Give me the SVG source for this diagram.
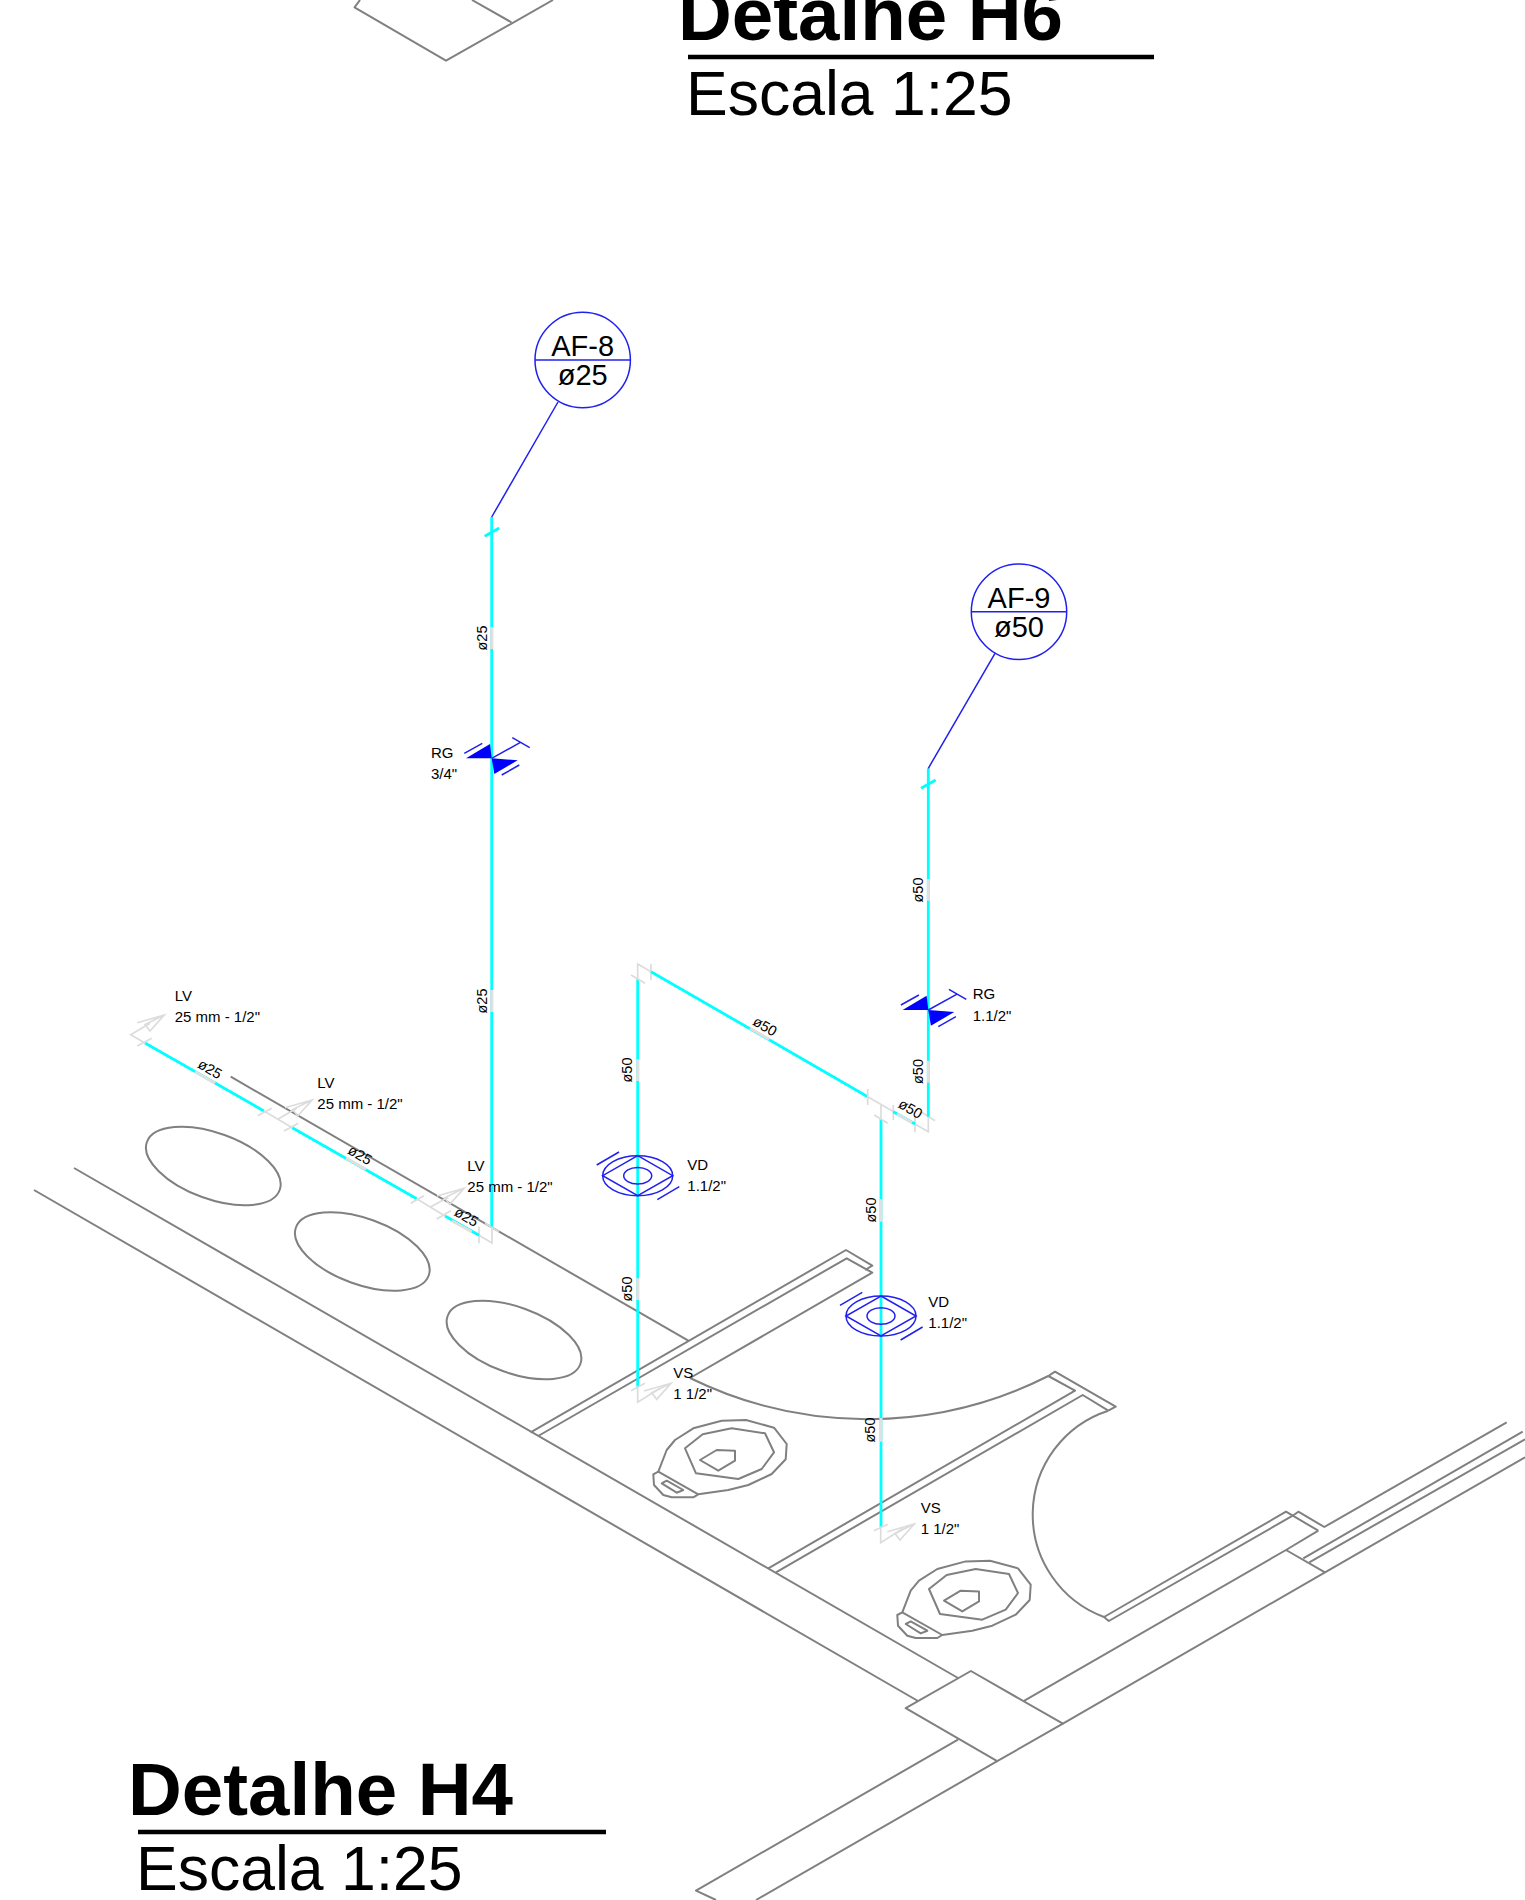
<svg xmlns="http://www.w3.org/2000/svg" width="1525" height="1900" viewBox="0 0 1525 1900">
<style>
text{font-family:"Liberation Sans",Arial,sans-serif;fill:#000}
.g{fill:none;stroke:#808080;stroke-width:2;stroke-linejoin:round}
.c{fill:none;stroke:#00ffff;stroke-width:2.8}
.l{fill:none;stroke:#dcdcdc;stroke-width:1.7}
.lg{fill:none;stroke:#e0e0e0;stroke-width:3}
.b{fill:none;stroke:#2020f0;stroke-width:1.5}
.bf{fill:#0000ff;stroke:none}
.t{font-size:15px}
.d{font-size:14.5px}
.m{font-size:29px;text-anchor:middle}
.h{font-size:74.5px;font-weight:bold}
.s{font-size:62.5px}
</style>
<defs>
<g id="toilet">
<path class="g" d="M658.3 1471.7L666.7 1450L675 1440L693.3 1428.3L721.7 1420.7L746 1420L774 1427.7L786.7 1444L785.7 1459.3L771.7 1474L748.3 1485L728.3 1490L698.3 1494.3L693.3 1497.3L671.7 1497.3L663.3 1495L654 1485L653.3 1474.3Z"/>
<path class="g" d="M658.3 1471.7L698.3 1494.3"/>
<path class="g" d="M685 1448.3L702.7 1434.3L731.7 1428.3L765 1433.3L774 1452.3L761.7 1469L738.3 1479L696 1473.3Z"/>
<path class="g" d="M700 1460L716.7 1450L735 1450.7L735 1460.7L718.3 1470.7Z"/>
<path class="g" d="M661.7 1483.3L666.7 1480.7L683.3 1490L676.7 1492.7Z"/>
</g>
<g id="plane">
<path class="l" d="M0 7.7L27 0L12.7 16L7.7 9.5L27 0"/>
</g>
<g id="rg">
<path class="bf" d="M0 0L-25.7 0L-1.7 -14.3Z"/>
<path class="bf" d="M0 0L26 2L2.6 15.7Z"/>
<path class="b" d="M-27.4 -5L-9.4 -15M10 16.7L27.6 6.7M0 0L28.3 -15.6M20.6 -20.6L38 -10.6"/>
</g>
<g id="vd">
<ellipse class="b" cx="0" cy="0" rx="35" ry="20"/>
<ellipse class="b" cx="0" cy="0" rx="14" ry="8.3"/>
<path class="b" d="M0 -20L35 0L0 20L-35 0Z"/>
<path class="b" d="M-41 -10.7L-18.7 -23.7M19.6 24L41.6 11"/>
</g>
</defs>

<g id="plan">
<path class="g" d="M360 0L354.5 7.3L446 60.7L553 0M472 0L511.4 22.3"/>
<path class="g" d="M74 1168L958 1678M34 1190L918 1701"/>
<path class="g" d="M230.7 1076.7L688.3 1340.7"/>
<ellipse class="g" cx="213.3" cy="1166" rx="70.6" ry="33" transform="rotate(19.9 213.3 1166)"/>
<ellipse class="g" cx="362.3" cy="1251.5" rx="70.6" ry="33" transform="rotate(19.9 362.3 1251.5)"/>
<ellipse class="g" cx="514" cy="1340" rx="70.6" ry="33" transform="rotate(19.9 514 1340)"/>
<path class="g" d="M530.6 1432.4L846 1250L872.3 1265.7L865 1270M538.2 1436L846.7 1258.3L872.3 1272.7L690 1378"/>
<path class="g" d="M690 1378A402 402 0 0 0 1048.3 1376L1055 1371.7L1115.7 1406.7L1108.3 1410.7"/>
<path class="g" d="M1048.3 1376L1075 1390.7L768.3 1568.3M1108.3 1410.7L1082.7 1395L776 1572.3"/>
<path class="g" d="M1108.3 1410.7A109.2 109.2 0 0 0 1104 1617L1108.8 1621L1292.7 1515.7L1298.3 1511.7L1324.3 1527L1506.7 1422.3"/>
<path class="g" d="M1104 1617L1286 1511.7L1318.3 1530.7"/>
<path class="g" d="M905.7 1708.2L970.9 1671L1062.9 1723.7L997.2 1761.2Z"/>
<path class="g" d="M1024 1700.8L1286 1550L1318.3 1530.7M1286 1550L1325 1572.3L1525 1457.3M1062.9 1723.7L1325 1572.3"/>
<path class="g" d="M1303.3 1558.3L1522.7 1431.7M1309.3 1562.3L1525 1439.3"/>
<path class="g" d="M958 1739.6L696 1890.6L716 1900M997.2 1761.2L756 1900"/>
<use href="#toilet"/>
<use href="#toilet" x="244" y="140.7"/>
</g>

<g id="connectors">
<path class="c" d="M491.7 517V1228M484.7 536.3L499.3 528"/>
<path class="lg" d="M491.7 627V649M491.7 990V1012"/>
<path class="l" d="M492 1228V1243L479 1235.3M479 1226.7V1243.3M485 1223.3L499 1231.7"/>
<path class="c" d="M145 1043L264 1111M292.3 1127.7L416.7 1198.7M445 1216L479 1235.3"/>
<path class="lg" d="M195 1071.7L215 1083.3M346 1158L366 1169.5M451.7 1220.7L471.7 1231.7"/>
<path class="l" d="M145 1043L130.7 1034.7L150 1023.3M137.3 1046L151.7 1038.3"/>
<path class="l" d="M264 1111L292.3 1127.7M257.7 1115.7L271.7 1108.3M284 1131L298.3 1123.3M277.7 1119.3L296.7 1108.3"/>
<path class="l" d="M416.7 1198.7L445 1216M410.7 1203.3L424 1195.7M436.7 1219L450.7 1210.7M430 1207.3L448.3 1197.3"/>
<use href="#plane" x="137.3" y="1015"/>
<use href="#plane" x="285" y="1100"/>
<use href="#plane" x="437" y="1188.3"/>

<path class="c" d="M637.7 979V1386.7"/>
<path class="lg" d="M637.7 1059.3V1081M637.7 1278.3V1300"/>
<path class="l" d="M637.7 979V964L651 971.7M631 975L645 983.3M651 964V980"/>
<path class="c" d="M651 971.7L867.7 1096.7"/>
<path class="lg" d="M750 1028.3L769.3 1039.3"/>
<path class="l" d="M867.7 1089V1105M867.7 1096.7L928.3 1131.7V1116.7M921.7 1112.3L935 1120.7M893.3 1105V1120M915 1116.7V1132"/>
<path class="c" d="M893.3 1111.7L915 1124"/>
<path class="lg" d="M897 1114L912 1122.5"/>
<path class="c" d="M928.3 768.3V1116.7M921 788.3L935.7 780"/>
<path class="lg" d="M928.3 879V900.7M928.3 1060.7V1082.7"/>
<path class="c" d="M881 1119V1526.7"/>
<path class="l" d="M881 1119V1105M874.3 1115L887.7 1123.3"/>
<path class="lg" d="M881 1199.3V1221.7M881 1418V1441.7"/>
<path class="l" d="M880.7 1526.7V1542.7L903.3 1528.3M874 1530.7L887.7 1524.3"/>
<use href="#plane" x="887.3" y="1524"/>
<path class="l" d="M637.7 1386.7V1402.3L660.3 1388M631 1390.7L645 1383.3"/>
<use href="#plane" x="644" y="1383.3"/>
<path class="b" d="M558 402L491.7 517M995 653.3L928.3 768.3"/>
</g>

<g id="af8">
<circle class="b" cx="582.7" cy="360" r="47.7"/>
<path class="b" d="M535 360H630.4"/>
<text class="m" x="582.7" y="356">AF-8</text>
<text class="m" x="582.7" y="385">ø25</text>
</g>
<g id="af9">
<circle class="b" cx="1019" cy="611.7" r="47.7"/>
<path class="b" d="M971.3 611.7H1066.7"/>
<text class="m" x="1019" y="607.7">AF-9</text>
<text class="m" x="1019" y="636.7">ø50</text>
</g>
<g id="rg1"><use href="#rg" x="491.7" y="758.3"/>
<text class="t" x="431" y="758">RG</text><text class="t" x="431" y="779.3">3/4"</text></g>
<g id="rg2"><use href="#rg" x="928.3" y="1010"/>
<text class="t" x="972.7" y="999.3">RG</text><text class="t" x="972.7" y="1021">1.1/2"</text></g>
<g id="vd1"><use href="#vd" x="637.7" y="1175.7"/>
<text class="t" x="687.3" y="1170">VD</text><text class="t" x="687.3" y="1191">1.1/2"</text></g>
<g id="vd2"><use href="#vd" x="881" y="1316"/>
<text class="t" x="928.3" y="1307">VD</text><text class="t" x="928.3" y="1328">1.1/2"</text></g>
<g id="labels">
<text class="t" x="174.7" y="1000.7">LV</text><text class="t" x="174.7" y="1022.3">25 mm - 1/2"</text>
<text class="t" x="317.3" y="1088.3">LV</text><text class="t" x="317.3" y="1109">25 mm - 1/2"</text>
<text class="t" x="467.3" y="1171">LV</text><text class="t" x="467.3" y="1192.3">25 mm - 1/2"</text>
<text class="t" x="673.3" y="1377.7">VS</text><text class="t" x="673.3" y="1399">1 1/2"</text>
<text class="t" x="920.7" y="1512.7">VS</text><text class="t" x="920.7" y="1534">1 1/2"</text>
<g class="d" text-anchor="middle">
<text transform="translate(486.5 638) rotate(-90)">ø25</text>
<text transform="translate(486.5 1001) rotate(-90)">ø25</text>
<text transform="translate(632.3 1070) rotate(-90)">ø50</text>
<text transform="translate(632.3 1289) rotate(-90)">ø50</text>
<text transform="translate(922.5 890) rotate(-90)">ø50</text>
<text transform="translate(922.5 1071.5) rotate(-90)">ø50</text>
<text transform="translate(875.5 1210) rotate(-90)">ø50</text>
<text transform="translate(875 1430) rotate(-90)">ø50</text>
<text transform="translate(207.5 1073.3) rotate(30)">ø25</text>
<text transform="translate(357.5 1159.3) rotate(30)">ø25</text>
<text transform="translate(464 1221) rotate(30)">ø25</text>
<text transform="translate(762.5 1030.5) rotate(30)">ø50</text>
<text transform="translate(908 1113) rotate(30)">ø50</text>
</g>
</g>
<g id="title-h6">
<text class="h" x="678" y="40">Detalhe H6</text>
<path d="M688 57H1154" stroke="#000" stroke-width="4.5"/>
<text class="s" x="686" y="114.5">Escala 1:25</text>
</g>
<g id="title-h4">
<text class="h" x="128" y="1815">Detalhe H4</text>
<path d="M138 1832H606" stroke="#000" stroke-width="4.5"/>
<text class="s" x="136" y="1889.5">Escala 1:25</text>
</g>
</svg>
